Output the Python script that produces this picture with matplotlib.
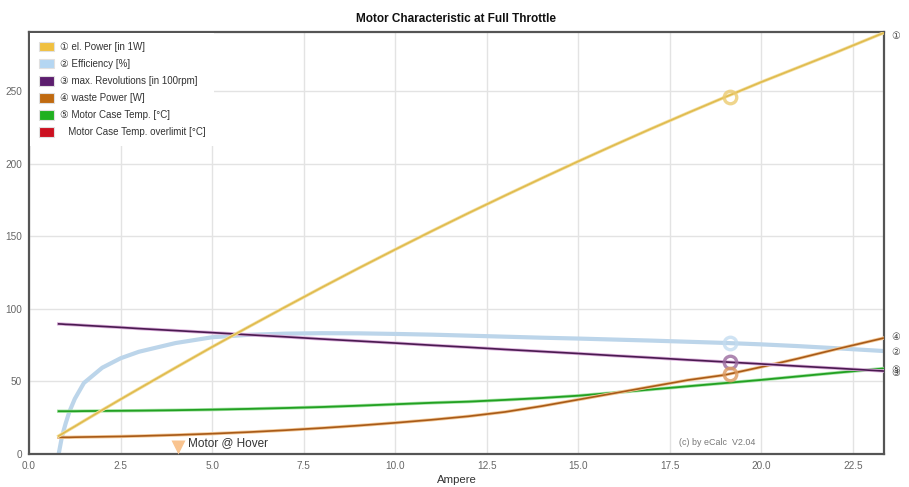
import matplotlib
matplotlib.use("Agg")
import matplotlib.pyplot as plt
from matplotlib.patches import Patch

# ---------------- data ----------------
amps = [0.81, 0.9, 1.0, 1.1, 1.25, 1.5, 2.0, 2.5, 3.0, 4.0, 5.0, 6.0, 7.0, 8.0, 9.0,
        10.0, 11.0, 12.0, 13.0, 14.0, 15.0, 16.0, 17.0, 18.0, 19.0, 20.0, 21.0, 22.0, 23.35]
el_power = [12.4, 13.8, 15.3, 16.8, 19.0, 22.8, 30.3, 37.7, 45.0, 59.5, 73.8, 87.7, 101.4,
            114.9, 128.1, 141.0, 153.7, 166.1, 178.2, 190.1, 201.8, 213.2, 224.4, 235.3,
            246.0, 256.5, 266.5, 276.5, 290.5]
efficiency = [0, 12, 21, 29, 38, 49, 59.5, 66, 70.5, 76.5, 80.5, 82.2, 83.0, 83.3, 83.2,
              82.8, 82.3, 81.6, 80.9, 80.2, 79.6, 78.9, 78.2, 77.4, 76.6, 75.6, 74.4, 73.0, 71.0]
revolutions = [89.7, 89.6, 89.4, 89.3, 89.1, 88.7, 88.0, 87.3, 86.5, 85.1, 83.7, 82.2, 80.8,
               79.3, 77.9, 76.5, 75.0, 73.6, 72.1, 70.7, 69.3, 67.8, 66.4, 64.9, 63.5, 62.1,
               60.6, 59.2, 57.2]
waste_power = [11.5, 11.5, 11.5, 11.5, 11.6, 11.7, 11.9, 12.1, 12.4, 13.1, 14.0, 15.1, 16.4,
               17.9, 19.6, 21.5, 23.6, 26.0, 29.0, 33.0, 37.5, 42.0, 46.5, 51.0, 54.5, 60.0,
               65.8, 72.0, 80.0]
case_temp = [29.5, 29.5, 29.5, 29.5, 29.5, 29.6, 29.7, 29.8, 29.9, 30.2, 30.6, 31.1, 31.7,
             32.4, 33.3, 34.3, 35.3, 36.1, 37.3, 38.6, 40.2, 42.3, 44.5, 46.7, 48.9, 51.1,
             53.5, 55.9, 59.0]

op_amps = 19.14
op_power, op_eff, op_revs, op_waste = 246.0, 76.5, 63.4, 55.0
hover_amps = 4.06

legend_labels = ["\u2460 el. Power [in 1W]", "\u2461 Efficiency [%]",
                 "\u2462 max. Revolutions [in 100rpm]", "\u2463 waste Power [W]",
                 "\u2464 Motor Case Temp. [\u00b0C]", "   Motor Case Temp. overlimit [\u00b0C]"]
end_labels = ["\u2460", "\u2461", "\u2462", "\u2463", "\u2464"]
x_ticks = [0.0, 2.5, 5.0, 7.5, 10.0, 12.5, 15.0, 17.5, 20.0, 22.5]
y_ticks = [0, 50, 100, 150, 200, 250]

# ---------------- style ----------------
plt.rcParams['font.family'] = ['Liberation Sans', 'DejaVu Sans']
fig = plt.figure(figsize=(9.09, 4.87), dpi=100)
ax = fig.add_axes([29 / 909, 1 - 454 / 487, (884 - 29) / 909, (454 - 32) / 487])

ax.set_xlim(0, 23.35)
ax.set_ylim(0, 291)
ax.set_xticks(x_ticks)
ax.set_xticklabels([f"{v:.1f}" for v in x_ticks])
ax.set_yticks(y_ticks)
ax.grid(True, color='#e3e3e3', linewidth=1)
ax.set_axisbelow(True)
ax.tick_params(length=0, labelsize=7.2, labelcolor='#666666', pad=5)
for s in ax.spines.values():
    s.set_color('#555555')
    s.set_linewidth(1.6)

c_power, c_eff, c_revs, c_waste, c_temp, c_over = '#f0c040', '#b4d6f2', '#5c1e6e', '#c06a10', '#20b020', '#cc1020'

# halos + lines
ax.plot(amps, efficiency, color='#bcd5ea', lw=3.0, solid_capstyle='round', zorder=2)
ax.plot(amps, case_temp, color='#a8e4a8', lw=2.4, zorder=3)
ax.plot(amps, case_temp, color='#22a022', lw=1.3, zorder=3.1)
ax.plot(amps, waste_power, color='#f2c898', lw=2.4, zorder=4)
ax.plot(amps, waste_power, color='#a85a18', lw=1.2, zorder=4.1)
ax.plot(amps, revolutions, color='#dcb0dc', lw=2.4, zorder=5)
ax.plot(amps, revolutions, color='#4a1a50', lw=1.2, zorder=5.1)
ax.plot(amps, el_power, color='#f5e2a8', lw=2.4, zorder=6)
ax.plot(amps, el_power, color='#e0bc50', lw=1.3, zorder=6.1)

# operating point circles
for val, col in [(op_power, '#eccb70'), (op_eff, '#c4dcf0'), (op_revs, '#9a6a9e'), (op_waste, '#dc9a60')]:
    ax.plot([op_amps], [val], marker='o', ms=9, mfc='none', mec=col, mew=2.4, alpha=0.8, zorder=7)

# hover marker
ax.plot([hover_amps], [5], marker='v', ms=10, color='#f9c490', mec='none', zorder=7, clip_on=False)
ax.text(hover_amps + 0.27, 7.8, "Motor @ Hover", fontsize=8.5, color='#333333', va='center', ha='left')
ax.text(17.75, 7.8, "(c) by eCalc  V2.04", fontsize=6.4, color='#777777', va='center', ha='left')

# end labels
ends = [el_power[-1] - 2, efficiency[-1] - 1, revolutions[-1] - 1, waste_power[-1] + 0.5, case_temp[-1] - 1]
for lab, yv in zip(end_labels, ends):
    ax.annotate(lab, xy=(1, yv), xycoords=('axes fraction', 'data'), xytext=(5, 0),
                textcoords='offset points', fontsize=7, color='#444444', va='center', ha='left',
                annotation_clip=False)

# legend
handles = [Patch(facecolor=c, edgecolor='#e0e0e0', linewidth=0.8) for c in
           [c_power, c_eff, c_revs, c_waste, c_temp, c_over]]
leg = ax.legend(handles, legend_labels, loc='upper left', bbox_to_anchor=(0.0, 1.0),
                fontsize=7, frameon=True, framealpha=1, edgecolor='none', facecolor='white',
                handlelength=1.6, handleheight=1.15, handletextpad=0.6, labelspacing=0.72,
                borderpad=0.85, borderaxespad=0.15, fancybox=False)
for t in leg.get_texts():
    t.set_color('#333333')
leg.set_zorder(10)

ax.set_title("Motor Characteristic at Full Throttle", fontsize=8.5, fontweight='bold',
             color='#111111', pad=7)
ax.set_xlabel("Ampere", fontsize=8.2, color='#333333', labelpad=3)

fig.savefig("out.png", dpi=100)
